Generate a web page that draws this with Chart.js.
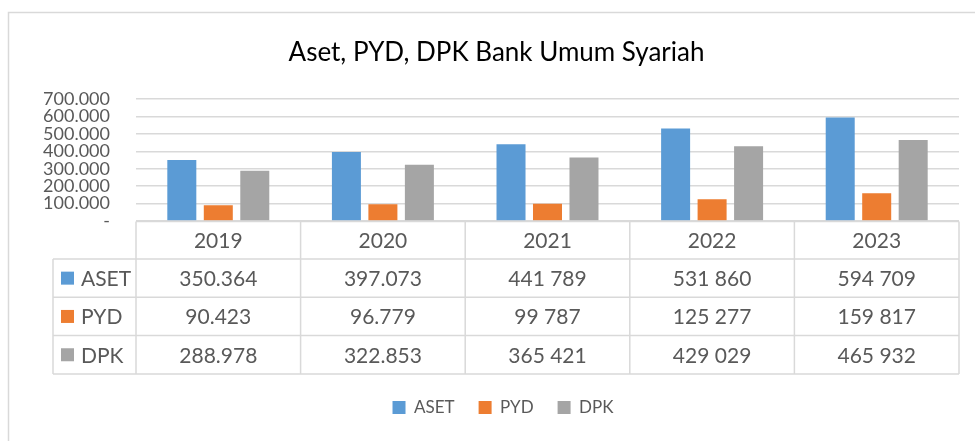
<!DOCTYPE html>
<html>
<head>
<meta charset="utf-8">
<script src="https://cdn.jsdelivr.net/npm/chart.js@4.4.1/dist/chart.umd.min.js"></script>
<style>
  html, body { margin: 0; padding: 0; background: #fff; }
  #wrap { width: 975px; height: 441px; position: relative; }
</style>
</head>
<body>
<div id="wrap"><canvas id="c" width="975" height="441"></canvas></div>
<script>
const categories = ['2019', '2020', '2021', '2022', '2023'];
const seriesNames = ['ASET', 'PYD', 'DPK'];
const aset = [350364, 397073, 441789, 531860, 594709];
const pyd = [90423, 96779, 99787, 125277, 159817];
const dpk = [288978, 322853, 365421, 429029, 465932];
const asetLabels = ['350.364', '397.073', '441 789', '531 860', '594 709'];
const pydLabels = ['90.423', '96.779', '99 787', '125 277', '159 817'];
const dpkLabels = ['288.978', '322.853', '365 421', '429 029', '465 932'];
const seriesColors = ['#5B9BD5', '#ED7D31', '#A5A5A5'];
const chartTitle = 'Aset, PYD, DPK Bank Umum Syariah';

const FONT = 'Lato, "Open Sans", sans-serif';
const TEXT = '#595959';
const LINE = '#d9d9d9';

function fmtTick(v) {
  if (v === 0) return '-';
  return Math.round(v).toString().replace(/\B(?=(\d{3})+(?!\d))/g, '.');
}

const borderPlugin = {
  id: 'outerBorder',
  beforeDraw(chart) {
    const ctx = chart.ctx;
    ctx.save();
    ctx.strokeStyle = LINE;
    ctx.lineWidth = 1.5;
    ctx.beginPath();
    ctx.moveTo(8.5, 441);
    ctx.lineTo(8.5, 12.5);
    ctx.lineTo(975, 12.5);
    ctx.stroke();
    ctx.restore();
  }
};

// Shift the legend and title boxes so they are centred like the reference
const boxShiftPlugin = {
  id: 'boxShift',
  afterLayout(chart) {
    if (chart.legend) chart.legend.left = 47;
    if (chart.titleBlock) chart.titleBlock.left = 34;
  }
};

const tablePlugin = {
  id: 'dataTable',
  afterDraw(chart) {
    const ctx = chart.ctx;
    const ca = chart.chartArea;
    const xs = chart.scales.x;
    const n = categories.length;
    const cw = (ca.right - ca.left) / n;
    const top = ca.bottom + 0.5;
    const headH = 37.5;
    const rowH = 38.3;
    const legLeft = 53;
    const rowLabels = [asetLabels, pydLabels, dpkLabels];
    const bottom = top + headH + rowH * 3;
    ctx.save();
    ctx.strokeStyle = LINE;
    ctx.lineWidth = 1.5;
    ctx.beginPath();
    ctx.moveTo(ca.left, top); ctx.lineTo(ca.right, top);
    for (let r = 0; r <= 3; r++) {
      const y = top + headH + rowH * r;
      ctx.moveTo(legLeft, y); ctx.lineTo(ca.right, y);
    }
    ctx.moveTo(legLeft, top + headH); ctx.lineTo(legLeft, bottom);
    for (let i = 0; i <= n; i++) {
      const x = ca.left + cw * i;
      ctx.moveTo(x, top); ctx.lineTo(x, bottom);
    }
    ctx.stroke();

    ctx.fillStyle = TEXT;
    ctx.font = '21px ' + FONT;
    ctx.textAlign = 'center';
    ctx.textBaseline = 'middle';
    for (let i = 0; i < n; i++) {
      const cx = xs.getPixelForValue(i);
      ctx.fillText(categories[i], cx, top + headH / 2 + 1);
      for (let r = 0; r < 3; r++) {
        ctx.fillText(rowLabels[r][i], cx, top + headH + rowH * r + rowH / 2 + 1);
      }
    }
    ctx.textAlign = 'left';
    for (let r = 0; r < 3; r++) {
      const cy = top + headH + rowH * r + rowH / 2;
      ctx.fillStyle = seriesColors[r];
      ctx.fillRect(61, cy - 6.5, 13, 13);
      ctx.fillStyle = TEXT;
      ctx.fillText(seriesNames[r], 81, cy + 1);
    }
    ctx.restore();
  }
};

new Chart(document.getElementById('c'), {
  type: 'bar',
  data: {
    labels: categories,
    datasets: [
      { label: seriesNames[0], data: aset, backgroundColor: seriesColors[0] },
      { label: seriesNames[1], data: pyd, backgroundColor: seriesColors[1] },
      { label: seriesNames[2], data: dpk, backgroundColor: seriesColors[2] }
    ]
  },
  options: {
    responsive: false,
    animation: false,
    devicePixelRatio: 1,
    layout: { padding: { top: 12, right: 16, left: 0, bottom: 15 } },
    datasets: { bar: { categoryPercentage: 0.665, barPercentage: 0.795 } },
    plugins: {
      title: {
        display: true,
        text: chartTitle,
        color: '#000',
        font: { family: FONT, size: 26, weight: 'normal' },
        padding: { top: 25, bottom: 31 }
      },
      legend: {
        position: 'bottom',
        labels: {
          color: TEXT,
          font: { family: FONT, size: 17 },
          boxWidth: 13,
          boxHeight: 13,
          padding: 24
        }
      },
      tooltip: { enabled: false }
    },
    scales: {
      x: {
        grid: { display: false },
        border: { display: false },
        ticks: { display: false },
        afterFit(scale) { scale.height = 154; }
      },
      y: {
        min: 0,
        max: 700000,
        afterFit(scale) { scale.width = 136; },
        grid: { color: LINE, lineWidth: 1.5, drawTicks: false },
        border: { display: false },
        ticks: {
          stepSize: 100000,
          autoSkip: false,
          padding: 26,
          color: TEXT,
          font: { family: FONT, size: 18 },
          callback: (v) => fmtTick(v)
        }
      }
    }
  },
  plugins: [borderPlugin, boxShiftPlugin, tablePlugin]
});
</script>
</body>
</html>
